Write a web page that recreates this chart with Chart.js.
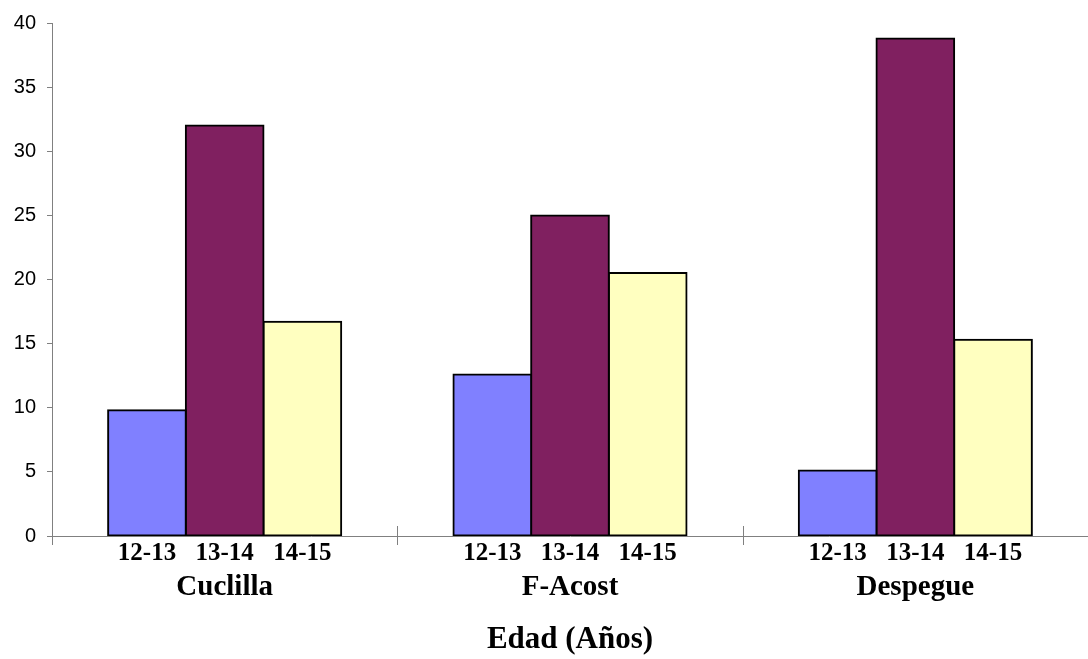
<!DOCTYPE html>
<html>
<head>
<meta charset="utf-8">
<script src="https://cdn.jsdelivr.net/npm/chart.js@4/dist/chart.umd.min.js"></script>
<style>
  html, body { margin: 0; padding: 0; background: #fff; }
  #wrap { width: 1088px; height: 659px; }
</style>
</head>
<body>
<div id="wrap"><canvas id="c" width="1088" height="659"></canvas></div>
<script>
const groups = ['Cuclilla', 'F-Acost', 'Despegue'];
const ageLabels = ['12-13', '13-14', '14-15'];
const v1213 = [9.8, 12.6, 5.1];
const v1314 = [32, 25, 38.8];
const v1415 = [16.7, 20.5, 15.3];
const yMin = 0, yMax = 40, yStep = 5;
const axisTitle = 'Edad (Años)';

const seriesValues = [v1213, v1314, v1415];
const seriesColors = ['#8080FF', '#802060', '#FFFFC0'];

const serif = '"Liberation Serif", "Times New Roman", serif';
const sans = '"Liberation Sans", Arial, sans-serif';

const barLabelsPlugin = {
  id: 'barLabels',
  afterDatasetsDraw(chart) {
    const ctx = chart.ctx;
    const xs = chart.scales.x;
    const bottom = chart.chartArea.bottom;
    ctx.save();
    // crossing tick marks at group boundaries
    ctx.strokeStyle = '#808080';
    ctx.lineWidth = 1;
    const n = chart.data.labels.length;
    for (let i = 0; i < n; i++) {
      const x = Math.round(xs.getPixelForValue(i) - (xs.width / n) / 2) + 0.5;
      ctx.beginPath();
      ctx.moveTo(x, bottom - 10);
      ctx.lineTo(x, bottom + 9);
      ctx.stroke();
    }
    // series labels under each bar
    ctx.fillStyle = '#000';
    ctx.font = 'bold 25px ' + serif;
    ctx.textAlign = 'center';
    ctx.textBaseline = 'middle';
    chart.data.datasets.forEach((ds, i) => {
      const meta = chart.getDatasetMeta(i);
      meta.data.forEach(el => {
        ctx.fillText(ds.label, el.x, bottom + 18);
      });
    });
    ctx.restore();
  }
};

new Chart(document.getElementById('c'), {
  type: 'bar',
  data: {
    labels: groups,
    datasets: ageLabels.map((lab, i) => ({
      label: lab,
      data: seriesValues[i],
      backgroundColor: seriesColors[i],
      borderColor: '#000000',
      borderWidth: 2,
      inflateAmount: 1,
      borderSkipped: false,
      categoryPercentage: 0.675,
      barPercentage: 1.0
    }))
  },
  options: {
    responsive: false,
    animation: false,
    events: [],
    layout: { padding: { top: 20, right: 0, left: 0, bottom: 0 } },
    plugins: {
      legend: { display: false },
      tooltip: { enabled: false }
    },
    scales: {
      x: {
        grid: { display: false, drawTicks: false },
        border: { display: true, color: '#808080', width: 1 },
        ticks: {
          color: '#000',
          font: { family: serif, size: 29, weight: 'bold' },
          padding: 34,
          maxRotation: 0,
          autoSkip: false
        },
        title: {
          display: true,
          text: axisTitle,
          color: '#000',
          font: { family: serif, size: 31, weight: 'bold' },
          padding: { top: 0, bottom: 0 }
        },
        afterFit(scale) { scale.height = 123; }
      },
      y: {
        min: yMin,
        max: yMax,
        ticks: {
          stepSize: yStep,
          color: '#000',
          font: { family: sans, size: 20 },
          padding: 11
        },
        grid: {
          drawOnChartArea: false,
          drawTicks: true,
          tickLength: 5,
          color: '#808080'
        },
        border: { display: true, color: '#808080', width: 1 },
        afterFit(scale) { scale.width = 52; }
      }
    }
  },
  plugins: [barLabelsPlugin]
});
</script>
</body>
</html>
